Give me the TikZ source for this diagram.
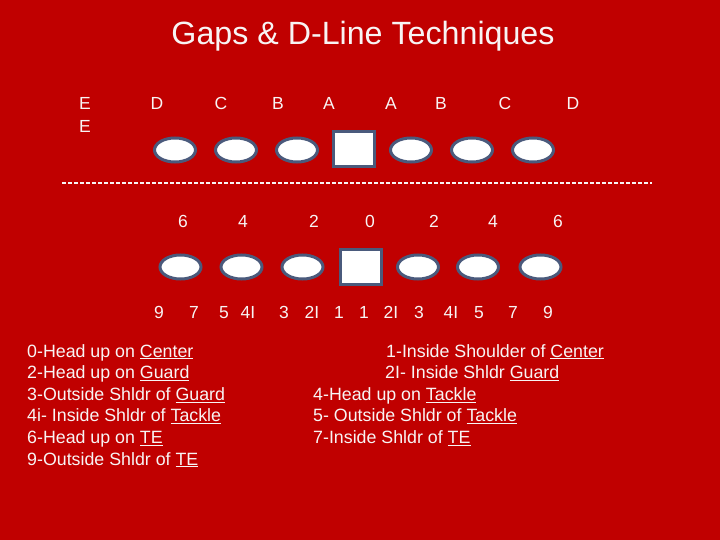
\documentclass[tikz,border=0pt]{standalone}
\usepackage{fontspec}
\setmainfont{Liberation Sans}
\usetikzlibrary{shapes.geometric}
\definecolor{bg}{HTML}{C00000}
\definecolor{txt}{HTML}{F8F4F4}
\definecolor{edge}{HTML}{4A5A7C}
\tikzset{
  lbl/.style={text=txt, font=\fontsize{17.5}{20}\selectfont, inner sep=0pt, anchor=base},
  legend/.style={text=txt, font=\fontsize{17.8}{21.6}\selectfont, inner sep=0pt, anchor=base west},
  player/.style={ellipse, draw=edge, fill=white, line width=3pt, minimum width=41pt, minimum height=24pt, inner sep=0pt},
  center/.style={rectangle, draw=edge, fill=white, line width=3pt, minimum width=41pt, minimum height=35pt, inner sep=0pt},
  losline/.style={draw=txt, line width=1.6pt, dash pattern=on 4pt off 2pt}
}
\begin{document}
\begin{tikzpicture}[x=1pt,y=-1pt]
\fill[bg] (0,0) rectangle (720,540);
\useasboundingbox (0,0) rectangle (720,540);
% title
\node[text=txt, font=\fontsize{32.2}{36}\selectfont, inner sep=0pt] (title) at (363,36) {Gaps \& D-Line Techniques};
% top letters
\node[lbl] (tE1) at (85,110) {E};
\node[lbl] (tE2) at (85,133) {E};
\node[lbl] (tD1) at (157,110) {D};
\node[lbl] (tC1) at (221,110) {C};
\node[lbl] (tB1) at (278,110) {B};
\node[lbl] (tA1) at (329,110) {A};
\node[lbl] (tA2) at (391,110) {A};
\node[lbl] (tB2) at (441,110) {B};
\node[lbl] (tC2) at (505,110) {C};
\node[lbl] (tD2) at (573,110) {D};
% top line of players
\node[player] (p1) at (175,150) {};
\node[player] (p2) at (236,150) {};
\node[player] (p3) at (297,150) {};
\node[center] (c1) at (354,149.5) {};
\node[player] (p4) at (411,150) {};
\node[player] (p5) at (472,150) {};
\node[player] (p6) at (533,150) {};
% line of scrimmage
\coordinate (los1) at (62,183);
\coordinate (los2) at (652,183);
\draw[losline] (los1) -- (los2);
% technique numbers
\node[lbl] (n6a) at (183,228) {6};
\node[lbl] (n4a) at (243,228) {4};
\node[lbl] (n2a) at (314,228) {2};
\node[lbl] (n0) at (370,228) {0};
\node[lbl] (n2b) at (434,228) {2};
\node[lbl] (n4b) at (493,228) {4};
\node[lbl] (n6b) at (558,228) {6};
% second line of players
\node[player] (q1) at (180.5,267) {};
\node[player] (q2) at (241.5,267) {};
\node[player] (q3) at (302.5,267) {};
\node[center] (c2) at (360.5,266.5) {};
\node[player] (q4) at (418,267) {};
\node[player] (q5) at (478,267) {};
\node[player] (q6) at (540.5,267) {};
% gap numbers
\node[lbl] (g9a) at (159,318) {9};
\node[lbl] (g7a) at (194,318) {7};
\node[lbl] (g5a) at (224,318) {5};
\node[lbl] (g4a) at (248,318) {4I};
\node[lbl] (g3a) at (284,318) {3};
\node[lbl] (g2a) at (312,318) {2I};
\node[lbl] (g1a) at (339,318) {1};
\node[lbl] (g1b) at (364,318) {1};
\node[lbl] (g2b) at (391,318) {2I};
\node[lbl] (g3b) at (419,318) {3};
\node[lbl] (g4b) at (451,318) {4I};
\node[lbl] (g5b) at (479,318) {5};
\node[lbl] (g7b) at (513,318) {7};
\node[lbl] (g9b) at (548,318) {9};
% legend left
\node[legend] (l0) at (27,357) {0-Head up on \underline{Center}};
\node[legend] (l2) at (27,378.6) {2-Head up on \underline{Guard}};
\node[legend] (l3) at (27,400.2) {3-Outside Shldr of \underline{Guard}};
\node[legend] (l4) at (27,421.8) {4i- Inside Shldr of \underline{Tackle}};
\node[legend] (l6) at (27,443.4) {6-Head up on \underline{TE}};
\node[legend] (l9) at (27,465) {9-Outside Shldr of \underline{TE}};
% legend right
\node[legend] (r1) at (386,357) {1-Inside Shoulder of \underline{Center}};
\node[legend] (r2) at (385,378.6) {2I- Inside Shldr \underline{Guard}};
\node[legend] (r4) at (313,400.2) {4-Head up on \underline{Tackle}};
\node[legend] (r5) at (313,421.8) {5- Outside Shldr of \underline{Tackle}};
\node[legend] (r7) at (313,443.4) {7-Inside Shldr of \underline{TE}};
\end{tikzpicture}
\end{document}
